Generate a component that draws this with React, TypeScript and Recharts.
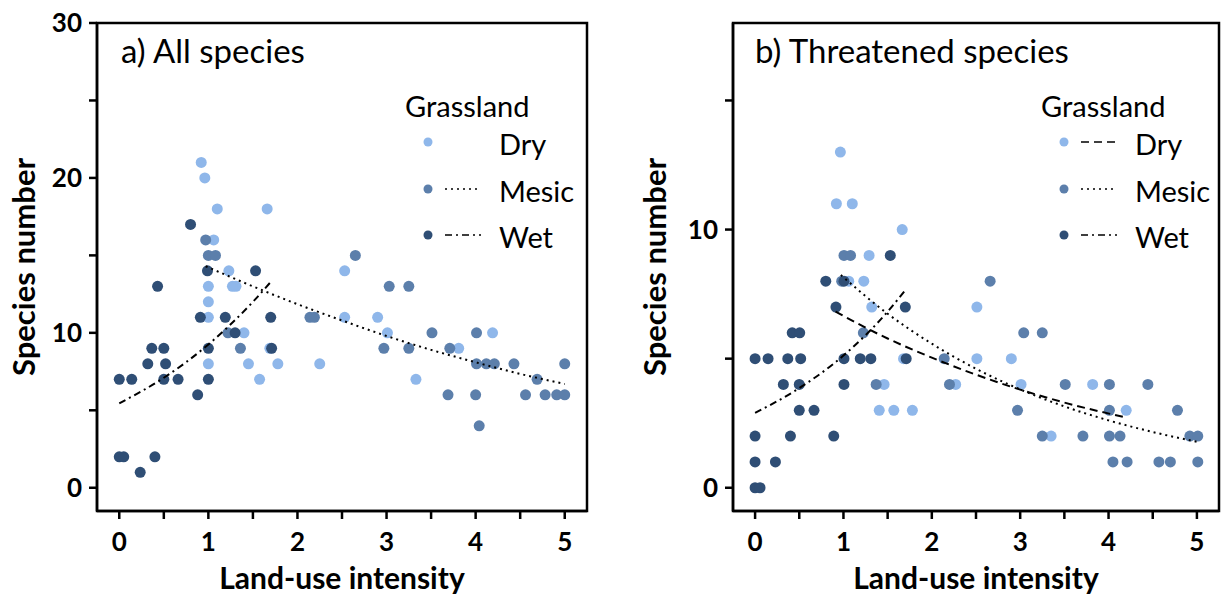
import React from 'react';
import { ScatterChart, Scatter, XAxis, YAxis, ReferenceArea } from 'recharts';

// ---------- data ----------
type P = { x: number; y: number };

const dryA: P[] = [
  { x: 0.92, y: 21 }, { x: 0.96, y: 20 }, { x: 1.1, y: 18 }, { x: 1.66, y: 18 }, { x: 1.06, y: 16 },
  { x: 1.23, y: 14 }, { x: 2.53, y: 14 }, { x: 1.0, y: 13 }, { x: 1.27, y: 13 }, { x: 1.31, y: 13 },
  { x: 1.0, y: 12 }, { x: 1.0, y: 11 }, { x: 2.53, y: 11 }, { x: 2.9, y: 11 }, { x: 1.4, y: 10 },
  { x: 3.01, y: 10 }, { x: 4.19, y: 10 }, { x: 1.69, y: 9 }, { x: 3.81, y: 9 }, { x: 1.0, y: 8 },
  { x: 1.45, y: 8 }, { x: 1.78, y: 8 }, { x: 2.25, y: 8 }, { x: 1.575, y: 7 }, { x: 3.33, y: 7 },
];
const mesicA: P[] = [
  { x: 0.97, y: 16 }, { x: 1.0, y: 15 }, { x: 1.08, y: 15 }, { x: 2.65, y: 15 }, { x: 3.03, y: 13 },
  { x: 3.25, y: 13 }, { x: 2.14, y: 11 }, { x: 2.19, y: 11 }, { x: 1.22, y: 10 }, { x: 3.51, y: 10 },
  { x: 4.01, y: 10 }, { x: 1.36, y: 9 }, { x: 2.97, y: 9 }, { x: 3.25, y: 9 }, { x: 3.71, y: 9 },
  { x: 4.01, y: 8 }, { x: 4.12, y: 8 }, { x: 4.21, y: 8 }, { x: 4.43, y: 8 }, { x: 5.0, y: 8 },
  { x: 4.69, y: 7 }, { x: 3.69, y: 6 }, { x: 4.0, y: 6 }, { x: 4.56, y: 6 }, { x: 4.78, y: 6 },
  { x: 4.91, y: 6 }, { x: 5.0, y: 6 }, { x: 4.04, y: 4 },
];
const wetA: P[] = [
  { x: 0.8, y: 17 }, { x: 0.99, y: 14 }, { x: 1.53, y: 14 }, { x: 0.43, y: 13 }, { x: 0.91, y: 11 },
  { x: 1.19, y: 11 }, { x: 1.7, y: 11 }, { x: 1.3, y: 10 }, { x: 0.365, y: 9 }, { x: 0.5, y: 9 },
  { x: 1.0, y: 9 }, { x: 1.71, y: 9 }, { x: 0.32, y: 8 }, { x: 0.52, y: 8 }, { x: 0.0, y: 7 },
  { x: 0.14, y: 7 }, { x: 0.5, y: 7 }, { x: 0.66, y: 7 }, { x: 1.0, y: 7 }, { x: 0.88, y: 6 },
  { x: 0.0, y: 2 }, { x: 0.05, y: 2 }, { x: 0.4, y: 2 }, { x: 0.235, y: 1 },
];
const fitMesicA: P[] = [
  { x: 0.97, y: 14.3 }, { x: 1.5, y: 13.0 }, { x: 2, y: 11.85 }, { x: 2.5, y: 10.8 }, { x: 3, y: 9.8 },
  { x: 3.5, y: 8.9 }, { x: 4, y: 8.1 }, { x: 4.5, y: 7.35 }, { x: 5, y: 6.7 },
];
const fitWetA: P[] = [
  { x: 0, y: 5.45 }, { x: 0.5, y: 7.1 }, { x: 1, y: 9.25 }, { x: 1.5, y: 12.0 }, { x: 1.71, y: 13.35 },
];

const dryB: P[] = [
  { x: 0.965, y: 13 }, { x: 0.92, y: 11 }, { x: 1.1, y: 11 }, { x: 1.665, y: 10 }, { x: 1.29, y: 9 },
  { x: 1.06, y: 8 }, { x: 1.23, y: 8 }, { x: 1.32, y: 7 }, { x: 2.51, y: 7 }, { x: 1.68, y: 5 },
  { x: 2.51, y: 5 }, { x: 2.9, y: 5 }, { x: 1.46, y: 4 }, { x: 2.27, y: 4 }, { x: 3.01, y: 4 },
  { x: 3.82, y: 4 }, { x: 1.405, y: 3 }, { x: 1.57, y: 3 }, { x: 1.78, y: 3 }, { x: 4.2, y: 3 },
  { x: 3.35, y: 2 },
];
const mesicB: P[] = [
  { x: 1.006, y: 9 }, { x: 1.08, y: 9 }, { x: 0.98, y: 8 }, { x: 2.66, y: 8 }, { x: 1.225, y: 6 },
  { x: 3.04, y: 6 }, { x: 3.25, y: 6 }, { x: 2.14, y: 5 }, { x: 1.37, y: 4 }, { x: 2.2, y: 4 },
  { x: 3.51, y: 4 }, { x: 4.01, y: 4 }, { x: 4.445, y: 4 }, { x: 2.97, y: 3 }, { x: 4.01, y: 3 },
  { x: 4.78, y: 3 }, { x: 3.25, y: 2 }, { x: 3.71, y: 2 }, { x: 4.01, y: 2 }, { x: 4.13, y: 2 },
  { x: 4.92, y: 2 }, { x: 5.01, y: 2 }, { x: 4.05, y: 1 }, { x: 4.21, y: 1 }, { x: 4.57, y: 1 },
  { x: 4.7, y: 1 }, { x: 5.01, y: 1 },
];
const wetB: P[] = [
  { x: 1.53, y: 9 }, { x: 0.8, y: 8 }, { x: 1.006, y: 8 }, { x: 0.915, y: 7 }, { x: 1.7, y: 7 },
  { x: 0.42, y: 6 }, { x: 0.505, y: 6 }, { x: 0.0, y: 5 }, { x: 0.147, y: 5 }, { x: 0.37, y: 5 },
  { x: 0.516, y: 5 }, { x: 1.006, y: 5 }, { x: 1.19, y: 5 }, { x: 1.31, y: 5 }, { x: 1.71, y: 5 },
  { x: 0.32, y: 4 }, { x: 0.5, y: 4 }, { x: 1.006, y: 4 }, { x: 0.5, y: 3 }, { x: 0.667, y: 3 },
  { x: 0.0, y: 2 }, { x: 0.4, y: 2 }, { x: 0.89, y: 2 }, { x: 0.0, y: 1 }, { x: 0.23, y: 1 },
  { x: 0.0, y: 0 }, { x: 0.056, y: 0 },
];
const fitDryB: P[] = [
  { x: 0.91, y: 6.82 }, { x: 1.5, y: 5.78 }, { x: 2, y: 5.04 }, { x: 2.5, y: 4.38 }, { x: 3, y: 3.8 },
  { x: 3.5, y: 3.3 }, { x: 4.2, y: 2.72 },
];
const fitMesicB: P[] = [
  { x: 0.97, y: 8.24 }, { x: 1.5, y: 6.74 }, { x: 2, y: 5.58 }, { x: 2.5, y: 4.61 }, { x: 3, y: 3.81 },
  { x: 3.5, y: 3.15 }, { x: 4, y: 2.61 }, { x: 4.5, y: 2.16 }, { x: 5, y: 1.78 },
];
const fitWetB: P[] = [
  { x: 0, y: 2.9 }, { x: 0.5, y: 3.86 }, { x: 1, y: 5.12 }, { x: 1.5, y: 6.82 }, { x: 1.71, y: 7.7 },
];

const xTicks = [0, 0.5, 1, 1.5, 2, 2.5, 3, 3.5, 4, 4.5, 5];
const yTicksA = [0, 5, 10, 15, 20, 25, 30];
const yTicksB = [0, 5, 10, 15];
const groupNames = ['Dry', 'Mesic', 'Wet'];

// ---------- styles ----------
const FONT = "Lato, 'Open Sans', sans-serif";
const C_DRY = '#8fb7ea';
const C_MESIC = '#5c7fab';
const C_WET = '#2f4e75';
const DOT_R = 5.5;
const AX = { stroke: '#000', strokeWidth: 2.5 };
const DASH_DOTTED = '2 4';
const DASH_DASHDOT = '7 4 2 4';
const DASH_DASHED = '8 5';

const dotShape = (color: string) => (props: any) =>
  <circle cx={props.cx} cy={props.cy} r={DOT_R} fill={color} />;
const noShape = () => <g />;

const XTick = (props: any) => {
  const { x, y, payload } = props;
  if (!Number.isInteger(payload.value)) return <g />;
  return (
    <text x={x} y={y} dy="0.72em" textAnchor="middle" fontFamily={FONT} fontWeight={700} fontSize={26} fill="#000">
      {payload.value}
    </text>
  );
};
const YTick = (props: any) => {
  const { x, y, payload } = props;
  if (payload.value % 10 !== 0) return <g />;
  return (
    <text x={x} y={y} dy="0.36em" textAnchor="end" fontFamily={FONT} fontWeight={700} fontSize={26} fill="#000">
      {payload.value}
    </text>
  );
};

type PanelProps = {
  left: number;
  yAxisWidth: number;
  rightMargin: number;
  yDomain: [number, number];
  yTicks: number[];
  dry: P[];
  mesic: P[];
  wet: P[];
  fitDry?: P[];
  fitMesic: P[];
  fitWet: P[];
};

const Panel = (p: PanelProps) => (
  <div style={{ position: 'absolute', left: p.left, top: 0 }}>
    <ScatterChart width={612} height={599} margin={{ top: 23, right: p.rightMargin, bottom: 0, left: 0 }}>
      <XAxis
        type="number"
        dataKey="x"
        domain={[-0.25, 5.25]}
        ticks={xTicks}
        interval={0}
        allowDataOverflow
        height={88}
        tickSize={8}
        tickMargin={13}
        axisLine={AX}
        tickLine={AX}
        tick={XTick}
      />
      <YAxis
        type="number"
        dataKey="y"
        domain={p.yDomain}
        ticks={p.yTicks}
        interval={0}
        allowDataOverflow
        width={p.yAxisWidth}
        tickSize={8}
        tickMargin={7}
        axisLine={AX}
        tickLine={AX}
        tick={YTick}
      />
      <ReferenceArea
        x1={-0.25}
        x2={5.25}
        y1={p.yDomain[0]}
        y2={p.yDomain[1]}
        fill="none"
        fillOpacity={0}
        stroke="#000"
        strokeWidth={2.5}
        ifOverflow="visible"
      />
      <Scatter name="Dry" data={p.dry} fill={C_DRY} shape={dotShape(C_DRY)} isAnimationActive={false} />
      <Scatter name="Mesic" data={p.mesic} fill={C_MESIC} shape={dotShape(C_MESIC)} isAnimationActive={false} />
      <Scatter name="Wet" data={p.wet} fill={C_WET} shape={dotShape(C_WET)} isAnimationActive={false} />
      {p.fitDry && (
        <Scatter
          name="Dry fit"
          data={p.fitDry}
          shape={noShape}
          line={{ stroke: '#000', strokeWidth: 2, strokeDasharray: DASH_DASHED }}
          lineType="joint"
          lineJointType="monotoneX"
          isAnimationActive={false}
        />
      )}
      <Scatter
        name="Mesic fit"
        data={p.fitMesic}
        shape={noShape}
        line={{ stroke: '#000', strokeWidth: 2, strokeDasharray: DASH_DOTTED }}
        lineType="joint"
        lineJointType="monotoneX"
        isAnimationActive={false}
      />
      <Scatter
        name="Wet fit"
        data={p.fitWet}
        shape={noShape}
        line={{ stroke: '#000', strokeWidth: 2, strokeDasharray: DASH_DASHDOT }}
        lineType="joint"
        lineJointType="monotoneX"
        isAnimationActive={false}
      />
    </ScatterChart>
  </div>
);

const Legend = ({ x, withDry }: { x: number; withDry: boolean }) => {
  const colors = [C_DRY, C_MESIC, C_WET];
  const dashes = [withDry ? DASH_DASHED : null, DASH_DOTTED, DASH_DASHDOT];
  const markerX = x + 23;
  const lineX1 = x + 40;
  const lineX2 = x + 76;
  const textX = x + 94;
  const ys = [142, 189, 235];
  return (
    <g>
      <text x={x} y={117} fontFamily={FONT} fontSize={29} fill="#000">Grassland</text>
      {groupNames.map((n, i) => (
        <g key={n}>
          <circle cx={markerX} cy={ys[i]} r={4.5} fill={colors[i]} />
          {dashes[i] && (
            <line x1={lineX1} x2={lineX2} y1={ys[i]} y2={ys[i]} stroke="#000" strokeWidth={1.5} strokeDasharray={dashes[i] as string} />
          )}
          <text x={textX} y={ys[i] + 13} fontFamily={FONT} fontSize={29} fill="#000">{n}</text>
        </g>
      ))}
    </g>
  );
};

export default function App() {
  return (
    <div style={{ position: 'fixed', left: 0, top: 0, width: 1224, height: 599, background: '#fff', overflow: 'hidden' }}>
      <Panel
        left={0}
        yAxisWidth={97}
        rightMargin={25}
        yDomain={[-1.5, 30]}
        yTicks={yTicksA}
        dry={dryA}
        mesic={mesicA}
        wet={wetA}
        fitMesic={fitMesicA}
        fitWet={fitWetA}
      />
      <Panel
        left={612}
        yAxisWidth={121}
        rightMargin={5}
        yDomain={[-0.9, 18]}
        yTicks={yTicksB}
        dry={dryB}
        mesic={mesicB}
        wet={wetB}
        fitDry={fitDryB}
        fitMesic={fitMesicB}
        fitWet={fitWetB}
      />
      <svg width={1224} height={599} style={{ position: 'absolute', left: 0, top: 0, pointerEvents: 'none' }}>
        <text x={121} y={63} fontFamily={FONT} fontSize={33} fill="#000">a) All species</text>
        <text x={755} y={63} fontFamily={FONT} fontSize={33} fill="#000">b) Threatened species</text>
        <Legend x={405} withDry={false} />
        <Legend x={1041} withDry={true} />
        <text
          transform="translate(24,267) rotate(-90)"
          textAnchor="middle"
          dy="0.36em"
          fontFamily={FONT}
          fontWeight={700}
          fontSize={31}
          fill="#000"
        >
          Species number
        </text>
        <text
          transform="translate(655,267) rotate(-90)"
          textAnchor="middle"
          dy="0.36em"
          fontFamily={FONT}
          fontWeight={700}
          fontSize={31}
          fill="#000"
        >
          Species number
        </text>
        <text x={342} y={589} textAnchor="middle" fontFamily={FONT} fontWeight={700} fontSize={30} fill="#000">
          Land-use intensity
        </text>
        <text x={976} y={589} textAnchor="middle" fontFamily={FONT} fontWeight={700} fontSize={30} fill="#000">
          Land-use intensity
        </text>
      </svg>
    </div>
  );
}
